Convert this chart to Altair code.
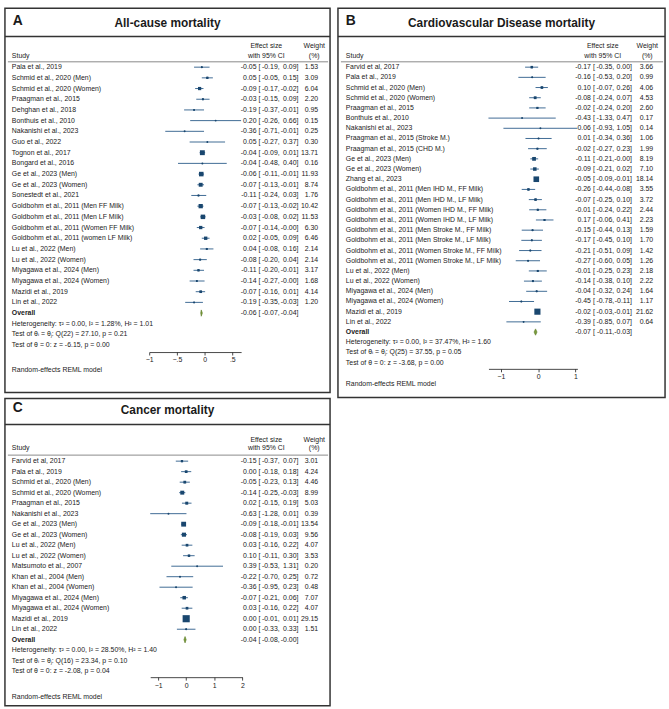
import altair as alt
import pandas as pd

FONT = "Liberation Sans"
NAVY = "#1a476f"
GREEN = "#7a9c3a"
INK = "#1a1a1a"

# ---------------- Panel A: All-cause mortality ----------------
A_STUDY = [
    "Pala et al., 2019", "Schmid et al., 2020 (Men)", "Schmid et al., 2020 (Women)",
    "Praagman et al., 2015", "Dehghan et al., 2018", "Bonthuis et al., 2010",
    "Nakanishi et al., 2023", "Guo et al., 2022", "Tognon et al., 2017",
    "Bongard et al., 2016", "Ge et al., 2023 (Men)", "Ge et al., 2023 (Women)",
    "Sonestedt et al., 2021", "Goldbohm et al., 2011 (Men FF Milk)",
    "Goldbohm et al., 2011 (Men LF Milk)", "Goldbohm et al., 2011 (Women FF Milk)",
    "Goldbohm et al., 2011 (women LF Milk)", "Lu et al., 2022 (Men)",
    "Lu et al., 2022 (Women)", "Miyagawa et al., 2024 (Men)",
    "Miyagawa et al., 2024 (Women)", "Mazidi et al., 2019", "Lin et al., 2022",
]
A_EST = [-0.05, 0.05, -0.09, -0.03, -0.19, 0.20, -0.36, 0.05, -0.04, -0.04, -0.06, -0.07,
         -0.11, -0.07, -0.03, -0.07, 0.02, 0.04, -0.08, -0.11, -0.14, -0.07, -0.19]
A_LO = [-0.19, -0.05, -0.17, -0.15, -0.37, -0.26, -0.71, -0.27, -0.09, -0.48, -0.11, -0.13,
        -0.24, -0.13, -0.08, -0.14, -0.05, -0.08, -0.20, -0.20, -0.27, -0.16, -0.35]
A_HI = [0.09, 0.15, -0.02, 0.09, -0.01, 0.66, -0.01, 0.37, 0.01, 0.40, -0.01, -0.01,
        0.03, -0.02, 0.02, -0.0, 0.09, 0.16, 0.04, -0.01, -0.0, 0.01, -0.03]
A_W = [1.53, 3.09, 6.04, 2.20, 0.95, 0.15, 0.25, 0.30, 13.71, 0.16, 11.93, 8.74,
       1.76, 10.42, 11.53, 6.30, 6.46, 2.14, 2.14, 3.17, 1.68, 4.14, 1.20]
A_OVERALL = [-0.06, -0.07, -0.04]
A_STATS = [
    "Heterogeneity: τ² = 0.00, I² = 1.28%, H² = 1.01",
    "Test of θᵢ = θⱼ: Q(22) = 27.10, p = 0.21",
    "Test of θ = 0: z = -6.15, p = 0.00",
]
A_TICKS = [-1, -0.5, 0, 0.5]

# ---------------- Panel B: Cardiovascular Disease mortality ----------------
B_STUDY = [
    "Farvid et al, 2017", "Pala et al., 2019", "Schmid et al., 2020 (Men)",
    "Schmid et al., 2020 (Women)", "Praagman et al., 2015", "Bonthuis et al., 2010",
    "Nakanishi et al., 2023", "Praagman et al., 2015 (Stroke M.)",
    "Praagman et al., 2015 (CHD M.)", "Ge et al., 2023 (Men)", "Ge et al., 2023 (Women)",
    "Zhang et al., 2023", "Goldbohm et al., 2011 (Men IHD M., FF Milk)",
    "Goldbohm et al., 2011 (Men IHD M., LF Milk)",
    "Goldbohm et al., 2011 (Women IHD M., FF Milk)",
    "Goldbohm et al., 2011 (Women IHD M., LF Milk)",
    "Goldbohm et al., 2011 (Men Stroke M., FF Milk)",
    "Goldbohm et al., 2011 (Men Stroke M., LF Milk)",
    "Goldbohm et al., 2011 (Women Stroke M., FF Milk)",
    "Goldbohm et al., 2011 (Women Stroke M., LF Milk)",
    "Lu et al., 2022 (Men)", "Lu et al., 2022 (Women)", "Miyagawa et al., 2024 (Men)",
    "Miyagawa et al., 2024 (Women)", "Mazidi et al., 2019", "Lin et al., 2022",
]
B_EST = [-0.17, -0.16, 0.10, -0.08, -0.02, -0.43, 0.06, 0.01, -0.02, -0.11, -0.09, -0.05,
         -0.26, -0.07, -0.01, 0.17, -0.15, -0.17, -0.21, -0.27, -0.01, -0.14, -0.04, -0.45,
         -0.02, -0.39]
B_LO = [-0.35, -0.53, -0.07, -0.24, -0.24, -1.33, -0.93, -0.34, -0.27, -0.21, -0.21, -0.09,
        -0.44, -0.25, -0.24, -0.06, -0.44, -0.45, -0.51, -0.60, -0.25, -0.38, -0.32, -0.78,
        -0.03, -0.85]
B_HI = [0.00, 0.20, 0.26, 0.07, 0.20, 0.47, 1.05, 0.36, 0.23, -0.0, 0.02, -0.01,
        -0.08, 0.10, 0.22, 0.41, 0.13, 0.10, 0.09, 0.05, 0.23, 0.10, 0.24, -0.11,
        -0.01, 0.07]
B_W = [3.66, 0.99, 4.06, 4.53, 2.60, 0.17, 0.14, 1.06, 1.99, 8.19, 7.10, 18.14,
       3.55, 3.72, 2.44, 2.23, 1.59, 1.70, 1.42, 1.26, 2.18, 2.22, 1.64, 1.17, 21.62, 0.64]
B_OVERALL = [-0.07, -0.11, -0.03]
B_STATS = [
    "Heterogeneity: τ² = 0.00, I² = 37.47%, H² = 1.60",
    "Test of θᵢ = θⱼ: Q(25) = 37.55, p = 0.05",
    "Test of θ = 0: z = -3.68, p = 0.00",
]
B_TICKS = [-1, 0, 1]

# ---------------- Panel C: Cancer mortality ----------------
C_STUDY = [
    "Farvid et al, 2017", "Pala et al., 2019", "Schmid et al., 2020 (Men)",
    "Schmid et al., 2020 (Women)", "Praagman et al., 2015", "Nakanishi et al., 2023",
    "Ge et al., 2023 (Men)", "Ge et al., 2023 (Women)", "Lu et al., 2022 (Men)",
    "Lu et al., 2022 (Women)", "Matsumoto et al., 2007", "Khan et al., 2004 (Men)",
    "Khan et al., 2004 (Women)", "Miyagawa et al., 2024 (Men)",
    "Miyagawa et al., 2024 (Women)", "Mazidi et al., 2019", "Lin et al., 2022",
]
C_EST = [-0.15, 0.00, -0.05, -0.14, 0.02, -0.63, -0.09, -0.08, 0.03, 0.10, 0.39, -0.22,
         -0.36, -0.07, 0.03, 0.00, 0.00]
C_LO = [-0.37, -0.18, -0.23, -0.25, -0.15, -1.28, -0.18, -0.19, -0.16, -0.11, -0.53, -0.70,
        -0.95, -0.21, -0.16, -0.01, -0.33]
C_HI = [0.07, 0.18, 0.13, -0.03, 0.19, 0.01, -0.01, 0.03, 0.22, 0.30, 1.31, 0.25,
        0.23, 0.06, 0.22, 0.01, 0.33]
C_W = [3.01, 4.24, 4.46, 8.99, 5.03, 0.39, 13.54, 9.56, 4.07, 3.53, 0.20, 0.72,
       0.48, 7.07, 4.07, 29.15, 1.51]
C_OVERALL = [-0.04, -0.08, -0.0]
C_STATS = [
    "Heterogeneity: τ² = 0.00, I² = 28.50%, H² = 1.40",
    "Test of θᵢ = θⱼ: Q(16) = 23.34, p = 0.10",
    "Test of θ = 0: z = -2.08, p = 0.04",
]
C_TICKS = [-1, 0, 1, 2]

MODEL_NOTE = "Random-effects REML model"

COLS = dict(study=7, est_r=254.6, br_l=256.5, lo_r=278.0, hi_r=297.0, w_r=317.0,
            es_c=264.5, w_c=313.0)


def one(txt, x, y, size=7.0, weight="normal", align="left", baseline="middle"):
    return alt.Chart(pd.DataFrame({"t": [txt]})).mark_text(
        align=align, baseline=baseline, font=FONT, fontSize=size,
        fontWeight=weight, color=INK,
    ).encode(x=alt.value(x), y=alt.value(y), text="t:N")


def hline(y, x1, x2, width, color):
    return alt.Chart(pd.DataFrame({"k": [0]})).mark_rule(
        color=color, strokeWidth=width
    ).encode(x=alt.value(x1), x2=alt.value(x2), y=alt.value(y))


def panel(letter, title, study, est, lo, hi, w, overall, stats, ticks, g):
    W, H = g["W"], g["H"]
    n = len(study)
    y0, dy = g["y0"], g["dy"]
    c = dict(COLS)
    c.update(g.get("cols", {}))
    rows = pd.DataFrame({
        "row": list(range(n)), "study": study, "est": est, "lo": lo, "hi": hi, "w": w,
        "est_s": [f"{v:.2f}" for v in est],
        "lo_s": [f"{v:.2f}," for v in lo],
        "hi_s": [f"{v:.2f}]" for v in hi],
        "w_s": [f"{v:.2f}" for v in w],
        "br": ["["] * n,
    })
    ys = alt.Scale(domain=[0, n], range=[y0, y0 + n * dy], nice=False, zero=False)
    xs = alt.Scale(domain=g["dom"], range=g["rng"], nice=False, zero=False)
    ax = alt.Axis(values=ticks, format="~g", labelExpr="replace(datum.label, '0.', '.')",
                  grid=False, offset=g["axis_y"] - H, domainColor=INK, domainWidth=0.8,
                  tickColor=INK, tickWidth=0.8, tickSize=3, labelFontSize=7,
                  labelFont=FONT, labelColor=INK, labelPadding=1, title=None,
                  labelFlush=False)

    def X(f):
        return alt.X(f"{f}:Q", scale=xs, axis=ax)

    Y = alt.Y("row:Q", scale=ys, axis=None)
    T = dict(font=FONT, fontSize=7, color=INK, baseline="middle")
    base = alt.Chart(rows)
    layers = []
    layers.append(base.mark_rule(color="#2a5a88", strokeWidth=0.9).encode(x=X("lo"), x2="hi:Q", y=Y))
    layers.append(base.mark_square(color=NAVY, opacity=1).encode(
        x=X("est"), y=Y,
        size=alt.Size("w:Q", scale=alt.Scale(domain=[0, max(w)], range=[0, 52]), legend=None)))
    layers.append(base.mark_circle(color=NAVY, size=4, opacity=1).encode(x=X("est"), y=Y))
    layers.append(base.mark_text(align="left", **T).encode(x=alt.value(c["study"]), y=Y, text="study:N"))
    layers.append(base.mark_text(align="right", **T).encode(x=alt.value(c["est_r"]), y=Y, text="est_s:N"))
    layers.append(base.mark_text(align="left", **T).encode(x=alt.value(c["br_l"]), y=Y, text="br:N"))
    layers.append(base.mark_text(align="right", **T).encode(x=alt.value(c["lo_r"]), y=Y, text="lo_s:N"))
    layers.append(base.mark_text(align="right", **T).encode(x=alt.value(c["hi_r"]), y=Y, text="hi_s:N"))
    layers.append(base.mark_text(align="right", **T).encode(x=alt.value(c["w_r"]), y=Y, text="w_s:N"))

    # overall
    oe, ol, oh = overall
    ov = pd.DataFrame({"row": [n], "lab": ["Overall"], "est_s": [f"{oe:.2f}"],
                       "lo_s": [f"{ol:.2f},"], "hi_s": [f"{oh:.2f}]"], "br": ["["]})
    ob = alt.Chart(ov)
    layers.append(ob.mark_text(align="left", fontWeight="bold", **T).encode(x=alt.value(c["study"]), y=Y, text="lab:N"))
    layers.append(ob.mark_text(align="right", **T).encode(x=alt.value(c["est_r"]), y=Y, text="est_s:N"))
    layers.append(ob.mark_text(align="left", **T).encode(x=alt.value(c["br_l"]), y=Y, text="br:N"))
    layers.append(ob.mark_text(align="right", **T).encode(x=alt.value(c["lo_r"]), y=Y, text="lo_s:N"))
    layers.append(ob.mark_text(align="right", **T).encode(x=alt.value(c["hi_r"]), y=Y, text="hi_s:N"))
    hh = 3.2 / dy
    dm = pd.DataFrame({"x": [ol, oe, oh], "top": [n, n - hh, n], "bot": [n, n + hh, n]})
    layers.append(alt.Chart(dm).mark_area(color=GREEN, stroke="#5a7a25", strokeWidth=0.6,
                                          orient="vertical").encode(
        x=X("x"), y=alt.Y("top:Q", scale=ys, axis=None), y2="bot:Q"))

    st = pd.DataFrame({"row": [n + 1, n + 2, n + 3], "txt": stats})
    layers.append(alt.Chart(st).mark_text(align="left", **T).encode(x=alt.value(c["study"]), y=Y, text="txt:N"))

    # headers, title, lines, note
    layers.append(one(letter, 8, g["letter_y"], size=14, weight="bold", baseline="alphabetic"))
    layers.append(one(title, W / 2, g["title_y"], size=12, weight="bold", align="center", baseline="alphabetic"))
    layers.append(hline(g["tline"], 0, W, 1.5, "#333333"))
    layers.append(one("Study", c["study"], g["h2"]))
    layers.append(one("Effect size", c["es_c"], g["h1"], align="center"))
    layers.append(one("with 95% CI", c["es_c"], g["h2"], align="center"))
    layers.append(one("Weight", c["w_c"], g["h1"], align="center"))
    layers.append(one("(%)", c["w_c"], g["h2"], align="center"))
    layers.append(hline(g["hline"], 3, W - 2, 0.7, "#555555"))
    layers.append(one(MODEL_NOTE, c["study"], g["note_y"]))

    return alt.layer(*layers).properties(width=W, height=H)


GA = dict(W=329, H=389, y0=59.7, dy=10.82, dom=[-1, 0.66], rng=[146, 239], axis_y=348,
          note_y=366.3, letter_y=17, title_y=19.5, tline=28.7, h1=38, h2=48, hline=54.3)
GB = dict(W=331, H=394, y0=59.7, dy=10.31, dom=[-1.33, 1.05], rng=[152.3, 242.3], axis_y=365,
          note_y=380.3, letter_y=17, title_y=19, tline=28.7, h1=38, h2=48, hline=54.3,
          cols=dict(study=8, est_r=256, br_l=258, lo_r=279.5, hi_r=297.5, w_r=319, es_c=268, w_c=313))
GC = dict(W=329, H=311, y0=63.4, dy=10.63, dom=[-1.28, 2], rng=[147, 240.3], axis_y=282,
          note_y=301.7, letter_y=14, title_y=16, tline=26.3, h1=41.7, h2=50.5, hline=57.3)

pa = panel("A", "All-cause mortality", A_STUDY, A_EST, A_LO, A_HI, A_W, A_OVERALL, A_STATS, A_TICKS, GA)
pb = panel("B", "Cardiovascular Disease mortality", B_STUDY, B_EST, B_LO, B_HI, B_W, B_OVERALL, B_STATS, B_TICKS, GB)
pc = panel("C", "Cancer mortality", C_STUDY, C_EST, C_LO, C_HI, C_W, C_OVERALL, C_STATS, C_TICKS, GC)

chart = alt.hconcat(alt.vconcat(pa, pc, spacing=4), pb, spacing=4).properties(
    padding={"left": 3, "top": 3, "right": 2, "bottom": 2},
    background="white",
).configure_view(stroke="#333333", strokeWidth=1.5)

chart.save("out.html", embed_options={"renderer": "svg", "actions": False})
